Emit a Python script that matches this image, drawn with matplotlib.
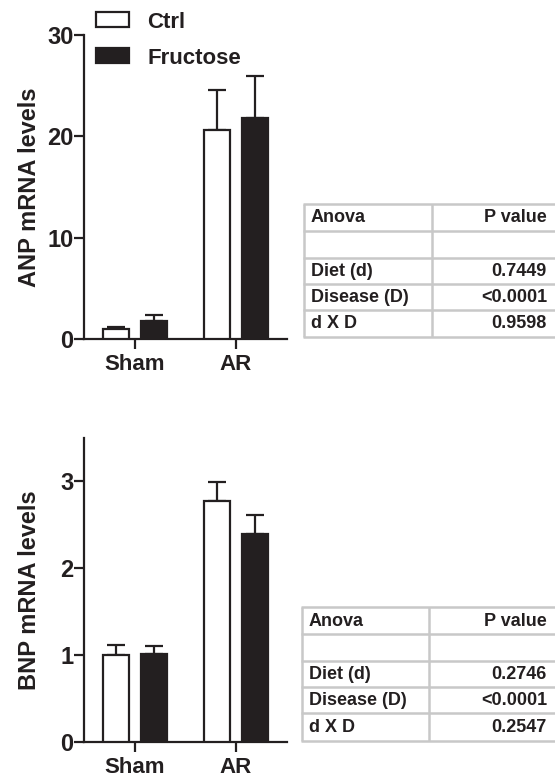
import matplotlib
matplotlib.use('Agg')
import matplotlib.pyplot as plt
from matplotlib.patches import Patch
import numpy as np

# ---------------- data ----------------
categories = ["Sham", "AR"]
series_names = ["Ctrl", "Fructose"]

anp_ctrl = [1.0, 20.6]
anp_ctrl_err = [0.2, 4.0]
anp_fru = [1.8, 21.8]
anp_fru_err = [0.57, 4.2]

bnp_ctrl = [1.0, 2.77]
bnp_ctrl_err = [0.12, 0.22]
bnp_fru = [1.01, 2.40]
bnp_fru_err = [0.09, 0.21]

anp_yticks = [0, 10, 20, 30]
bnp_yticks = [0, 1, 2, 3]

table_labels = ["Anova", "", "Diet (d)", "Disease (D)", "d X D"]
anp_pvalues = ["P value", "", "0.7449", "<0.0001", "0.9598"]
bnp_pvalues = ["P value", "", "0.2746", "<0.0001", "0.2547"]

# ---------------- style ----------------
plt.rcParams['font.family'] = ['Liberation Sans', 'DejaVu Sans']
plt.rcParams['font.weight'] = 'bold'
ink = '#231f20'
grid_gray = '#c8c8c8'

W, H = 555, 782
fig = plt.figure(figsize=(W / 100, H / 100), dpi=100)


def px_axes(l, t, r, b):
    return fig.add_axes([l / W, 1 - b / H, (r - l) / W, (b - t) / H])


def bar_panel(ax, ctrl, ctrl_err, fru, fru_err, ylim, yticks, ylabel):
    x = np.arange(len(categories))
    off, w = 0.188, 0.26
    ax.errorbar(x - off, ctrl, yerr=[np.zeros(len(x)), ctrl_err], fmt='none',
                ecolor=ink, elinewidth=1.6, capsize=6.5, capthick=1.6, zorder=2)
    ax.errorbar(x + off, fru, yerr=[np.zeros(len(x)), fru_err], fmt='none',
                ecolor=ink, elinewidth=1.6, capsize=6.5, capthick=1.6, zorder=2)
    ax.bar(x - off, ctrl, w, color='white', edgecolor=ink, linewidth=1.6,
           zorder=3, label=series_names[0])
    ax.bar(x + off, fru, w, color=ink, edgecolor=ink, linewidth=1.6,
           zorder=3, label=series_names[1])
    ax.set_xlim(-0.505, 1.505)
    ax.set_ylim(*ylim)
    ax.set_xticks(x)
    ax.set_xticklabels(categories, fontsize=16, fontweight='bold', color=ink)
    ax.set_yticks(yticks)
    ax.set_yticklabels([str(t) for t in yticks], fontsize=17, fontweight='bold', color=ink)
    for s in ['top', 'right']:
        ax.spines[s].set_visible(False)
    for s in ['left', 'bottom']:
        ax.spines[s].set_linewidth(1.6)
        ax.spines[s].set_color(ink)
    ax.tick_params(axis='y', length=7, width=1.6, pad=0.5, color=ink)
    ax.tick_params(axis='x', length=7, width=1.6, pad=4, color=ink)
    ax.set_ylabel(ylabel, fontsize=17, fontweight='bold', color=ink)
    ax.yaxis.set_label_coords(-0.211, 0.5)


ax1 = px_axes(84, 35, 287, 339)
bar_panel(ax1, anp_ctrl, anp_ctrl_err, anp_fru, anp_fru_err, (0, 30),
          anp_yticks, "ANP mRNA levels")

ax2 = px_axes(84, 438, 287, 742)
bar_panel(ax2, bnp_ctrl, bnp_ctrl_err, bnp_fru, bnp_fru_err, (0, 3.5),
          bnp_yticks, "BNP mRNA levels")

handles = [Patch(facecolor='white', edgecolor=ink, linewidth=1.6),
           Patch(facecolor=ink, edgecolor=ink, linewidth=1.6)]
leg = ax1.legend(handles, series_names, loc='upper left', frameon=False,
                 bbox_to_anchor=(96 / W, 1 - 11.5 / H), bbox_transform=fig.transFigure,
                 borderaxespad=0, borderpad=0, handlelength=1.5, handleheight=0.68,
                 handletextpad=0.8, labelspacing=0.68,
                 prop={'size': 16, 'weight': 'bold'})
for t in leg.get_texts():
    t.set_color(ink)

# ---------------- tables ----------------
ov = fig.add_axes([0, 0, 1, 1])
ov.set_xlim(0, W)
ov.set_ylim(H, 0)
ov.axis('off')


def draw_table(left, mid, rows, labels, values):
    right = W + 5
    for y in rows:
        ov.plot([left - 1, right], [y, y], color=grid_gray, lw=1.8, solid_capstyle='butt')
    for xv in (left, mid):
        ov.plot([xv, xv], [rows[0], rows[-1]], color=grid_gray, lw=1.8, solid_capstyle='butt')
    for i, (lab, val) in enumerate(zip(labels, values)):
        yc = (rows[i] + rows[i + 1]) / 2 + 0.5
        ov.text(left + 7, yc, lab, fontsize=13, fontweight='bold', color=ink,
                ha='left', va='center')
        ov.text(W - 8, yc, val, fontsize=13, fontweight='bold', color=ink,
                ha='right', va='center')


draw_table(304, 432, [204, 231, 258, 284, 310, 337], table_labels, anp_pvalues)
draw_table(302, 429, [607, 634, 661, 687, 713, 741], table_labels, bnp_pvalues)

fig.savefig('out.png', dpi=100)
